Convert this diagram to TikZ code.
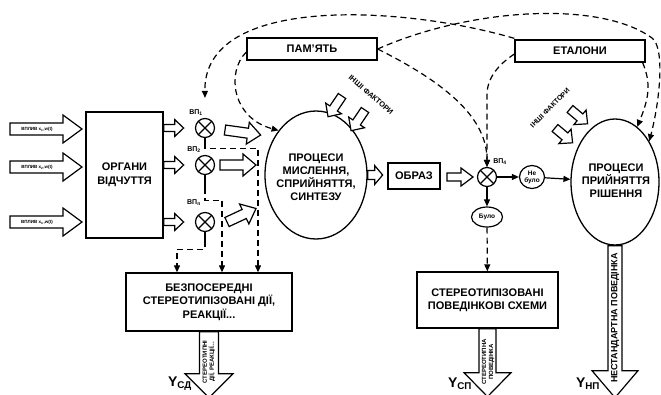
\documentclass[tikz,border=0pt]{standalone}
\usepackage{fontspec}
\setmainfont{Liberation Sans}
\usetikzlibrary{shapes.geometric,arrows.meta,calc}
\tikzset{
 box/.style={draw,line width=1.3pt,fill=white,align=center,font=\fontsize{11}{13.5}\selectfont\bfseries,inner sep=0pt},
 vp/.style={circle,draw,line width=1.2pt,minimum size=19pt,inner sep=0pt,path picture={\draw[line width=1.2pt] (path picture bounding box.north west)--(path picture bounding box.south east) (path picture bounding box.north east)--(path picture bounding box.south west);}},
 dl/.style={line width=1.2pt,dash pattern=on 6pt off 4pt},
 tip/.style={-{Triangle[length=7pt,width=6pt]}},
 barrow/.style={draw,line width=1.2pt,fill=white,line join=miter},
 lbl/.style={font=\fontsize{11}{13}\selectfont\bfseries,align=center},
 small/.style={font=\fontsize{7}{8}\selectfont\bfseries},
 tiny/.style={font=\fontsize{4.5}{5}\selectfont\bfseries},
 oval/.style={ellipse,draw,line width=1.2pt,inner sep=0pt,fill=white,align=center,font=\fontsize{6.5}{7}\selectfont\bfseries},
 ylab/.style={font=\fontsize{14}{14}\selectfont\bfseries},
 vtext/.style={rotate=90,align=center,font=\fontsize{6}{7}\selectfont\bfseries},
}
\newcommand\harr[6]{\draw[barrow,shift={#1},rotate=#2] (0,-#4) -- ({#3-#6},-#4) -- ({#3-#6},-#5) -- (#3,0) -- ({#3-#6},#5) -- ({#3-#6},#4) -- (0,#4) -- cycle;}
\begin{document}
\begin{tikzpicture}[x=1pt,y=1pt]
\fill[white] (0,0) rectangle (661,-394);
\useasboundingbox (0,0) rectangle (661,-394);

% main nodes
\node[box,minimum width=77pt,minimum height=126pt] (org) at (124.5,-175) {ОРГАНИ\\ВІДЧУТТЯ};
\node[vp] (c1) at (205,-128) {};
\node[vp] (c2) at (205,-165) {};
\node[vp] (c3) at (205,-222) {};
\node[vp] (c4) at (487,-177) {};
\node[small] (l1) at (196,-113) {ВП\textsubscript{1}};
\node[small] (l2) at (194,-150) {ВП\textsubscript{2}};
\node[small] (l3) at (194,-203) {ВП\textsubscript{n}};
\node[small] (l4) at (500,-162) {ВП\textsubscript{4}};
\node[ellipse,draw,line width=1.3pt,minimum width=102pt,minimum height=128pt,inner sep=0pt] (e1) at (316,-175) {};
\node[lbl] (e1t) at (316,-177) {ПРОЦЕСИ\\МИСЛЕННЯ,\\СПРИЙНЯТТЯ,\\СИНТЕЗУ};
\node[box,minimum width=52pt,minimum height=26pt] (obraz) at (414,-176) {ОБРАЗ};
\node[oval,minimum width=25pt,minimum height=23pt] (ne) at (532,-177) {Не\\було};
\node[oval,minimum width=31pt,minimum height=20pt] (bulo) at (487,-217) {Було};
\node[ellipse,draw,line width=1.3pt,minimum width=88pt,minimum height=126pt,inner sep=0pt] (e2) at (615,-182) {};
\node[lbl] (e2t) at (616,-181) {ПРОЦЕСИ\\ПРИЙНЯТТЯ\\РІШЕННЯ};
\node[box,minimum width=130pt,minimum height=22pt] (pam) at (312,-49) {ПАМ'ЯТЬ};
\node[box,minimum width=130pt,minimum height=22pt] (et) at (580,-51) {ЕТАЛОНИ};
\node[box,minimum width=166pt,minimum height=58pt] (bez) at (209,-302) {БЕЗПОСЕРЕДНІ\\СТЕРЕОТИПІЗОВАНІ ДІЇ,\\РЕАКЦІЇ...};
\node[box,minimum width=141pt,minimum height=56pt] (ster) at (487.5,-300) {СТЕРЕОТИПІЗОВАНІ\\ПОВЕДІНКОВІ СХЕМИ};

% input arrows
\harr{(10,-129)}{0}{72}{6}{14}{19}
\harr{(10,-167)}{0}{72}{6}{14}{19}
\harr{(10,-222)}{0}{72}{6}{14}{19}
\node[tiny] (in1) at (37,-129) {ВПЛИВ x\textsubscript{1},w(t)};
\node[tiny] (in2) at (37,-167) {ВПЛИВ x\textsubscript{2},w(t)};
\node[tiny] (in3) at (37,-222) {ВПЛИВ x\textsubscript{n},w(t)};

% organ -> circles
\harr{(org.east |- c1)}{0}{20}{3.5}{8.5}{9}
\harr{(org.east |- c2)}{0}{20}{3.5}{8.5}{9}
\harr{(org.east |- c3)}{0}{20}{3.5}{8.5}{9}

% circles -> e1
\harr{(225,-130)}{-8}{36}{5}{11}{13}
\harr{(220,-165)}{0}{36}{5}{11}{13}
\harr{(227,-222)}{25}{32}{5}{11}{13}

% e1 -> obraz -> c4
\harr{(e1.east)}{0}{15}{4.5}{9.5}{8}
\harr{(447,-177)}{0}{26}{4}{9}{12}

% other factors
\harr{(342,-96)}{-124}{25}{4.5}{9.5}{10}
\harr{(365,-110)}{-124}{25}{4.5}{9.5}{10}
\node[font=\fontsize{7.5}{8}\selectfont\bfseries,rotate=-41] (f1) at (371,-95) {ІНШІ ФАКТОРИ};
\harr{(570,-109)}{-40}{23}{4.5}{9.5}{10}
\harr{(555,-128)}{-40}{23}{4.5}{9.5}{10}
\node[font=\fontsize{7}{8}\selectfont\bfseries,rotate=45] (f2) at (550,-108) {ІНШІ ФАКТОРИ};

% circle stems -> bez
\draw[line width=1.2pt] (c1.south) -- ++(0,-5) coordinate (s1);
\draw[dl,tip] (s1) -- ++(0,-5) -| ([xshift=49pt]bez.north);
\draw[line width=1.2pt] (c2.south) -- ++(0,-13) coordinate (s2);
\draw[dl,tip] (s2) -- ++(0,-12) -| ([xshift=13pt]bez.north);
\draw[line width=1.2pt] (c3.south) -- ++(0,-9) coordinate (s3);
\draw[dl,tip] (s3) -- ++(0,-8) -| ([xshift=-32pt]bez.north);

% top dashed connectors
\draw[dl,tip] ([yshift=-3pt]pam.west) .. controls (226,-72) and (232,-118) .. (e1.130);
\draw[dl,tip] ([yshift=1pt]et.north west) .. controls (400,-5) and (203,5) .. ([yshift=20pt]c1.north);
\draw[dl,tip] (pam.east) .. controls (470,-8) and (600,0) .. (652,-38) .. controls (665,-47.5) and (660,-100) .. (e2.50);
\draw[dl,tip] (pam.east) .. controls (460,-90) and (487,-125) .. (c4.north);
\draw[dl,tip] ([yshift=-3pt]et.west) .. controls (498,-65) and (487,-78) .. (487,-95) -- (c4.north);
\draw[dl,tip] ([xshift=-3pt]et.south east) .. controls (652,-85) and (648,-100) .. (e2.68);

% decision arrows
\draw[line width=1.2pt,tip] (c4) -- (ne);
\draw[line width=1.2pt,tip] (ne) -- (e2);
\draw[line width=1.2pt,tip] (c4) -- (bulo);
\draw[dl,tip] (bulo) -- (ster);

% outputs
\harr{(bez.south)}{-90}{66}{9.5}{24}{24}
\harr{(ster.south)}{-90}{68}{8.5}{23.5}{24}
\harr{(e2.south)}{-90}{152}{7}{23}{27}
\node[vtext] (o1) at (209,-362) {СТЕРЕОТИПНІ\\ДІЇ, РЕАКЦІЇ...};
\node[vtext] (o2) at (488,-362) {СТЕРЕОТИПНА\\ПОВЕДІНКА};
\node[rotate=90,font=\fontsize{9}{10}\selectfont\bfseries] (o3) at (615,-318) {НЕСТАНДАРТНА ПОВЕДІНКА};
\node[ylab] (y1) at (180,-384) {Y\textsubscript{СД}};
\node[ylab] (y2) at (460,-384) {Y\textsubscript{СП}};
\node[ylab] (y3) at (588,-384) {Y\textsubscript{НП}};
\end{tikzpicture}
\end{document}
